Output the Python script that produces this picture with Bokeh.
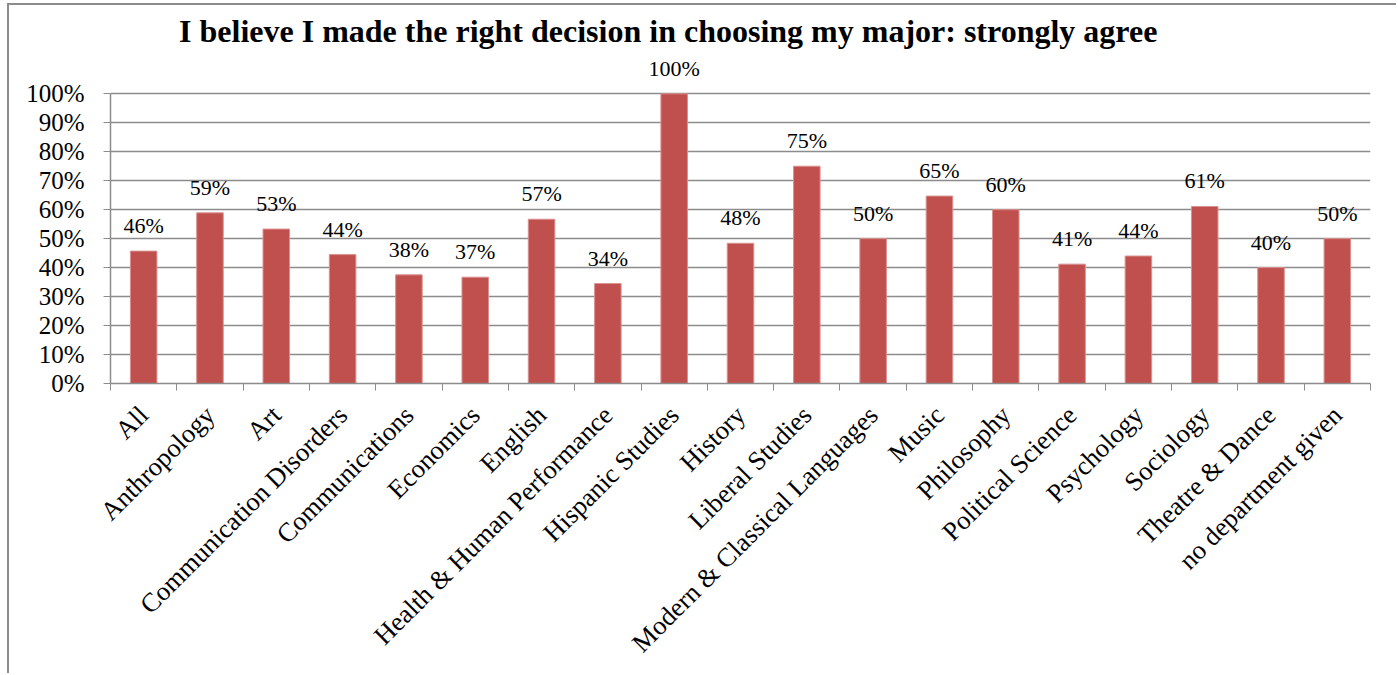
import math
from bokeh.plotting import figure
from bokeh.models import (ColumnDataSource, Range1d, FixedTicker, NumeralTickFormatter,
                          LabelSet, Label)
from bokeh.embed import file_html
from bokeh.resources import INLINE

# ---------------- data ----------------
categories = ["All", "Anthropology", "Art", "Communication Disorders", "Communications",
              "Economics", "English", "Health & Human Performance", "Hispanic Studies",
              "History", "Liberal Studies", "Modern & Classical Languages", "Music",
              "Philosophy", "Political Science", "Psychology", "Sociology",
              "Theatre & Dance", "no department given"]
values = [0.457, 0.589, 0.533, 0.445, 0.375, 0.367, 0.567, 0.345, 1.00, 0.484, 0.75,
          0.50, 0.647, 0.60, 0.412, 0.44, 0.611, 0.40, 0.50]
value_labels = ["46%", "59%", "53%", "44%", "38%", "37%", "57%", "34%", "100%", "48%",
                "75%", "50%", "65%", "60%", "41%", "44%", "61%", "40%", "50%"]
y_ticks = [0.0, 0.1, 0.2, 0.3, 0.4, 0.5, 0.6, 0.7, 0.8, 0.9, 1.0]
chart_title = "I believe I made the right decision in choosing my major: strongly agree"

# ---------------- styling / layout ----------------
FONT = "Liberation Serif"
BAR = "#C0504D"
GRAY = "#8c8c8c"

CANVAS_W, CANVAS_H = 1389, 670      # canvas (inside css border + margin)
ORIGIN_X, ORIGIN_Y = 9, 5           # canvas origin in the page
FRAME_L, FRAME_R = 110, 1370        # page x of plot area
AXIS_Y, TOP_Y = 383, 93.3           # page y of 0% and 100%

frame_h = AXIS_Y - ORIGIN_Y
y_end = frame_h / (AXIS_Y - TOP_Y)  # top of frame expressed in data units

n = len(categories)
centers = [i + 0.5 for i in range(n)]
bounds = list(range(n + 1))

src = ColumnDataSource(dict(x=centers, top=values, label=value_labels))

p = figure(width=CANVAS_W, height=CANVAS_H, x_range=Range1d(0, n),
           y_range=Range1d(0, y_end),
           output_backend="svg", toolbar_location=None, title=None,
           min_border_left=FRAME_L - ORIGIN_X,
           min_border_right=ORIGIN_X + CANVAS_W - FRAME_R,
           min_border_top=0,
           min_border_bottom=ORIGIN_Y + CANVAS_H - AXIS_Y)
p.outline_line_color = None
p.background_fill_color = "white"
p.border_fill_color = "white"
p.styles = {"border-left": "2px solid #8c8c8c", "border-top": "2px solid #8c8c8c",
            "margin-left": "7px", "margin-top": "3px"}

p.vbar(x="x", top="top", bottom=0, width=0.4, source=src,
       fill_color=BAR, line_color="#d9908e", line_width=1)

# y axis
p.yaxis.ticker = FixedTicker(ticks=y_ticks)
p.yaxis.bounds = (0, 1)
p.yaxis.formatter = NumeralTickFormatter(format="0%")
p.yaxis.major_label_text_font = FONT
p.yaxis.major_label_text_font_size = "25px"
p.yaxis.major_label_text_color = "black"
p.yaxis.major_label_standoff = 19
p.yaxis.major_tick_out = 7
p.yaxis.major_tick_in = 0
p.yaxis.minor_tick_line_color = None
p.yaxis.major_tick_line_color = GRAY
p.yaxis.axis_line_color = GRAY
p.yaxis.axis_line_width = 1.5

p.ygrid.ticker = FixedTicker(ticks=y_ticks)
p.ygrid.grid_line_color = GRAY
p.ygrid.grid_line_width = 1.3
p.xgrid.visible = False

# x axis
p.xaxis.ticker = FixedTicker(ticks=centers, minor_ticks=bounds)
p.xaxis.major_label_overrides = {c: name for c, name in zip(centers, categories)}
p.xaxis.major_tick_line_color = None
p.xaxis.minor_tick_line_color = GRAY
p.xaxis.minor_tick_out = 7
p.xaxis.minor_tick_in = 0
p.xaxis.axis_line_color = GRAY
p.xaxis.axis_line_width = 1.5
p.xaxis.major_label_orientation = math.pi / 4
p.xaxis.major_label_text_font = FONT
p.xaxis.major_label_text_font_size = "26.5px"
p.xaxis.major_label_text_color = "black"
p.xaxis.major_label_standoff = 20

labels = LabelSet(x="x", y="top", text="label", source=src, text_align="center",
                  text_baseline="alphabetic", y_offset=18, text_font=FONT,
                  text_font_size="22px", text_color="black")
p.add_layout(labels)

p.add_layout(Label(x=8.41, y=1.218, text=chart_title, text_align="center",
                   text_baseline="alphabetic", text_font=FONT, text_font_size="32px",
                   text_font_style="bold", text_color="black"))

open("out.html", "w").write(file_html(p, INLINE))
